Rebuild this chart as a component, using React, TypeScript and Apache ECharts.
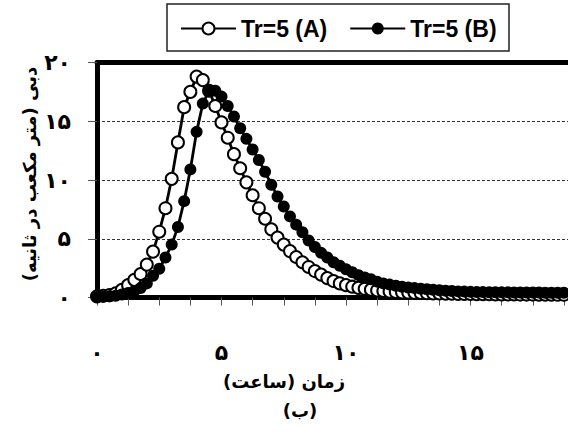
import React, { useEffect, useRef } from "react";
import * as echarts from "echarts";

// time step between consecutive samples (hours)
const TIME_STEP = 0.25;

const SERIES_NAMES = ["Tr=5 (A)", "Tr=5 (B)"];

// discharge (m3/s), sampled every 0.25 h starting at 0
const A_VALUES = [
  0.1, 0.15, 0.2, 0.35, 0.65, 1.05, 1.5, 2.0, 2.8, 3.9,
  5.6, 7.6, 10.1, 13.2, 16.2, 17.5, 18.8, 18.5, 17.6, 16.3,
  14.9, 13.6, 12.2, 11.0, 9.8, 8.7, 7.6, 6.7, 5.8, 5.1,
  4.5, 3.95, 3.45, 3.0, 2.6, 2.25, 1.95, 1.65, 1.4, 1.2,
  1.05, 0.92, 0.82, 0.74, 0.67, 0.6, 0.55, 0.5, 0.47, 0.44,
  0.42, 0.4, 0.38, 0.36, 0.35, 0.34, 0.33, 0.32, 0.31, 0.3,
  0.3, 0.29, 0.28, 0.28, 0.27, 0.27, 0.26, 0.26, 0.25, 0.25,
  0.25, 0.24, 0.24, 0.24, 0.23, 0.23,
];

const B_VALUES = [
  0.05, 0.07, 0.1, 0.15, 0.25, 0.38, 0.55, 0.8, 1.2, 1.85,
  2.45, 3.4, 4.5, 6.0, 8.2, 10.9, 14.1, 16.5, 17.6, 17.6,
  17.1, 16.3, 15.4, 14.4, 13.5, 12.6, 11.7, 10.7, 9.6, 8.6,
  7.75, 6.9, 6.2, 5.55, 4.85, 4.3, 3.8, 3.4, 3.0, 2.7,
  2.4, 2.15, 1.9, 1.7, 1.55, 1.35, 1.2, 1.1, 1.0, 0.92,
  0.85, 0.8, 0.75, 0.7, 0.66, 0.62, 0.58, 0.55, 0.52, 0.5,
  0.48, 0.47, 0.46, 0.45, 0.45, 0.44, 0.44, 0.43, 0.43, 0.42,
  0.42, 0.42, 0.41, 0.41, 0.4, 0.4,
];

const X_TICK_VALUES = [0, 5, 10, 15];
const Y_TICK_VALUES = [0, 5, 10, 15, 20];

const Y_TITLE = "دبی (متر مکعب در ثانیه)";
const X_TITLE = "زمان (ساعت)";
const SUBTITLE = "(ب)";

const PERSIAN = "۰۱۲۳۴۵۶۷۸۹";
const toPersian = (v: number) =>
  String(v).replace(/\d/g, (d) => PERSIAN[Number(d)]);

const FA_FONT = "DejaVu Sans";

export default function App() {
  const ref = useRef<HTMLDivElement>(null);

  useEffect(() => {
    document.body.style.margin = "0";
    if (!ref.current) return;
    const chart = echarts.init(ref.current, null, { renderer: "svg" });

    const toPairs = (vals: number[]) => vals.map((v, i) => [i * TIME_STEP, v]);

    chart.setOption({
      animation: false,
      backgroundColor: "#fff",
      grid: {
        left: 97,
        top: 62.5,
        width: 498,
        height: 235,
        outerBoundsMode: "none",
        containLabel: false,
      },
      legend: {
        data: SERIES_NAMES,
        left: 180,
        top: 17,
        padding: 0,
        itemWidth: 55,
        itemHeight: 15,
        itemGap: 22,
        textStyle: {
          fontFamily: "Liberation Sans, Arial",
          fontWeight: "bold",
          fontSize: 23,
          color: "#000",
        },
      },
      xAxis: [
        {
          type: "value",
          min: 0,
          max: 20,
          interval: 1.25,
          position: "bottom",
          axisLine: { onZero: false, lineStyle: { color: "#000", width: 5 } },
          axisTick: { show: true, length: 8, lineStyle: { color: "#555", width: 1 } },
          splitLine: { show: false },
          axisLabel: {
            margin: 44,
            fontFamily: FA_FONT,
            fontWeight: "bold",
            fontSize: 22,
            color: "#000",
            formatter: (v: number) =>
              X_TICK_VALUES.includes(v) ? toPersian(v) : "",
          },
        },
        {
          type: "value",
          min: 0,
          max: 20,
          position: "top",
          axisLine: { onZero: false, lineStyle: { color: "#000", width: 5 } },
          axisTick: { show: false },
          axisLabel: { show: false },
          splitLine: { show: false },
        },
      ],
      yAxis: {
        type: "value",
        min: 0,
        max: 20,
        interval: 5,
        axisLine: { show: true, onZero: false, lineStyle: { color: "#000", width: 5 } },
        axisTick: { show: true, length: 9, lineStyle: { color: "#555", width: 1 } },
        splitLine: {
          show: true,
          lineStyle: { color: "#333", width: 1, type: [3, 2] },
        },
        axisLabel: {
          margin: 26,
          fontFamily: FA_FONT,
          fontWeight: "bold",
          fontSize: 22,
          color: "#000",
          formatter: (v: number) =>
            Y_TICK_VALUES.includes(v) ? toPersian(v) : "",
        },
      },
      series: [
        {
          name: SERIES_NAMES[0],
          type: "line",
          data: toPairs(A_VALUES),
          symbol: "emptyCircle",
          symbolSize: 12,
          lineStyle: { color: "#000", width: 2.8 },
          itemStyle: { color: "#000", borderWidth: 1.8 },
          z: 3,
        },
        {
          name: SERIES_NAMES[1],
          type: "line",
          data: toPairs(B_VALUES),
          symbol: "circle",
          symbolSize: 12,
          lineStyle: { color: "#000", width: 2.8 },
          itemStyle: { color: "#000" },
          z: 4,
        },
      ],
      graphic: [
        {
          type: "rect",
          shape: { x: 167, y: 4, width: 342, height: 47 },
          style: { fill: "none", stroke: "#222", lineWidth: 1.5 },
          z: 10,
        },
        {
          type: "text",
          x: 29,
          y: 174,
          rotation: Math.PI / 2,
          style: {
            text: Y_TITLE,
            fontFamily: FA_FONT,
            fontWeight: "bold",
            fontSize: 18,
            fill: "#000",
            align: "center",
            verticalAlign: "middle",
          },
        },
        {
          type: "text",
          x: 284,
          y: 381,
          style: {
            text: X_TITLE,
            fontFamily: FA_FONT,
            fontWeight: "bold",
            fontSize: 18,
            fill: "#000",
            align: "center",
            verticalAlign: "middle",
          },
        },
        {
          type: "text",
          x: 300,
          y: 410,
          style: {
            text: SUBTITLE,
            fontFamily: FA_FONT,
            fontWeight: "bold",
            fontSize: 18,
            fill: "#000",
            align: "center",
            verticalAlign: "middle",
          },
        },
      ],
    });

    return () => chart.dispose();
  }, []);

  return <div ref={ref} style={{ width: 568, height: 441 }} />;
}
